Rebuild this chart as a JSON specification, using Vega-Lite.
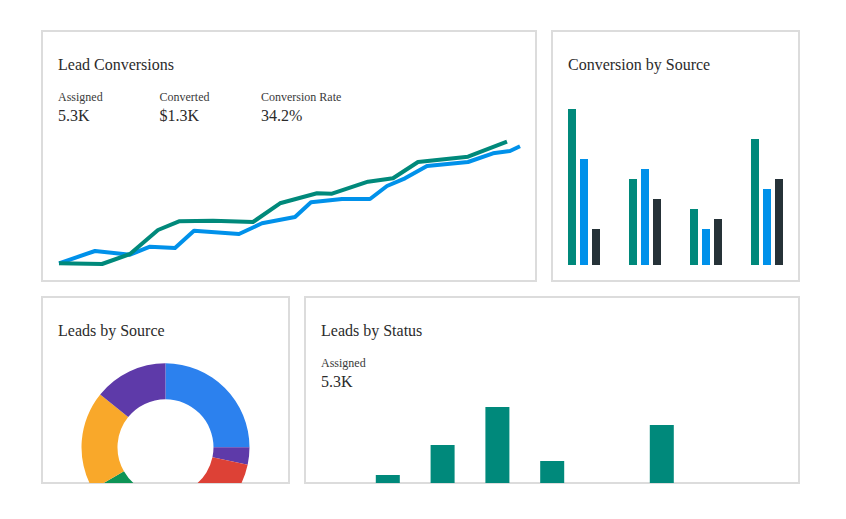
{
  "$schema": "https://vega.github.io/schema/vega-lite/v6.json",
  "background": "white",
  "padding": {"left": 41, "top": 30, "right": 46, "bottom": 35},
  "config": {
    "view": {"stroke": null},
    "font": "Liberation Serif",
    "title": {"anchor": "start", "frame": "group", "offset": -42, "dx": 16, "baseline": "alphabetic", "font": "Liberation Serif", "fontSize": 16, "fontWeight": "normal", "color": "#2b2b2b"},
    "text": {"font": "Liberation Serif", "color": "#333", "align": "left", "baseline": "alphabetic"}
  },
  "spacing": 14,
  "resolve": {"scale": {"color": "independent", "x": "independent", "y": "independent"}},
  "vconcat": [
    {
      "spacing": 14,
      "resolve": {"scale": {"color": "independent", "x": "independent", "y": "independent"}},
      "hconcat": [
        {
          "title": "Lead Conversions",
          "width": 494,
          "height": 250,
          "view": {"fill": "white", "stroke": "#dcdcdc", "strokeWidth": 2},
          "resolve": {"scale": {"x": "independent", "y": "independent", "color": "independent"}},
          "layer": [
            {
              "data": {"values": [
                {"metric": "Assigned", "row": "label", "text": "Assigned"},
                {"metric": "Assigned", "row": "value", "text": "5.3K"},
                {"metric": "Converted", "row": "label", "text": "Converted"},
                {"metric": "Converted", "row": "value", "text": "$1.3K"},
                {"metric": "Conversion Rate", "row": "label", "text": "Conversion Rate"},
                {"metric": "Conversion Rate", "row": "value", "text": "34.2%"}
              ]},
              "encoding": {
                "x": {"field": "metric", "type": "nominal", "sort": null, "scale": {"type": "point", "range": [16, 219], "padding": 0}, "axis": null},
                "y": {"field": "row", "type": "nominal", "scale": {"type": "point", "domain": ["label", "value"], "range": [70, 90], "padding": 0}, "axis": null},
                "text": {"field": "text"}
              },
              "layer": [
                {"transform": [{"filter": "datum.row === 'label'"}], "mark": {"type": "text", "fontSize": 12, "color": "#3a3a3a"}},
                {"transform": [{"filter": "datum.row === 'value'"}], "mark": {"type": "text", "fontSize": 16, "color": "#2b2b2b"}}
              ]
            },
            {
              "data": {"values": [
                {"series": "Assigned", "t": 0, "v": 0.7},
                {"series": "Assigned", "t": 36, "v": 13},
                {"series": "Assigned", "t": 71, "v": 9.3},
                {"series": "Assigned", "t": 91, "v": 17.3},
                {"series": "Assigned", "t": 116, "v": 16},
                {"series": "Assigned", "t": 135, "v": 33.3},
                {"series": "Assigned", "t": 180, "v": 30},
                {"series": "Assigned", "t": 203, "v": 40.7},
                {"series": "Assigned", "t": 236, "v": 47},
                {"series": "Assigned", "t": 252, "v": 61.7},
                {"series": "Assigned", "t": 283, "v": 65},
                {"series": "Assigned", "t": 311, "v": 65},
                {"series": "Assigned", "t": 328, "v": 78},
                {"series": "Assigned", "t": 346, "v": 85.7},
                {"series": "Assigned", "t": 368, "v": 98},
                {"series": "Assigned", "t": 409, "v": 102},
                {"series": "Assigned", "t": 434, "v": 110.7},
                {"series": "Assigned", "t": 451, "v": 113},
                {"series": "Assigned", "t": 461, "v": 117.7},
                {"series": "Converted", "t": 0, "v": 0.7},
                {"series": "Converted", "t": 43, "v": 0},
                {"series": "Converted", "t": 71, "v": 10},
                {"series": "Converted", "t": 99, "v": 34},
                {"series": "Converted", "t": 120, "v": 42.7},
                {"series": "Converted", "t": 154, "v": 43.3},
                {"series": "Converted", "t": 194, "v": 42},
                {"series": "Converted", "t": 221, "v": 60.7},
                {"series": "Converted", "t": 258, "v": 70.7},
                {"series": "Converted", "t": 273, "v": 70.3},
                {"series": "Converted", "t": 309, "v": 82.3},
                {"series": "Converted", "t": 334, "v": 85.7},
                {"series": "Converted", "t": 359, "v": 102},
                {"series": "Converted", "t": 409, "v": 107.3},
                {"series": "Converted", "t": 448, "v": 122.3}
              ]},
              "mark": {"type": "line", "strokeWidth": 4, "strokeJoin": "round"},
              "encoding": {
                "x": {"field": "t", "type": "quantitative", "scale": {"domain": [0, 461], "range": [17, 478], "nice": false, "zero": false}, "axis": null},
                "y": {"field": "v", "type": "quantitative", "scale": {"domain": [0, 125], "range": [233, 108], "nice": false}, "axis": null},
                "color": {"field": "series", "type": "nominal", "scale": {"domain": ["Assigned", "Converted"], "range": ["#0091EA", "#00897B"]}, "legend": null}
              }
            }
          ]
        },
        {
          "title": "Conversion by Source",
          "width": 247,
          "height": 250,
          "view": {"fill": "white", "stroke": "#dcdcdc", "strokeWidth": 2},
          "data": {"values": [
            {"source": "Website", "series": "Leads", "v": 156},
            {"source": "Website", "series": "Qualified", "v": 106},
            {"source": "Website", "series": "Converted", "v": 36},
            {"source": "Referral", "series": "Leads", "v": 86},
            {"source": "Referral", "series": "Qualified", "v": 96},
            {"source": "Referral", "series": "Converted", "v": 66},
            {"source": "Social", "series": "Leads", "v": 56},
            {"source": "Social", "series": "Qualified", "v": 36},
            {"source": "Social", "series": "Converted", "v": 46},
            {"source": "Email", "series": "Leads", "v": 126},
            {"source": "Email", "series": "Qualified", "v": 76},
            {"source": "Email", "series": "Converted", "v": 86}
          ]},
          "mark": {"type": "bar"},
          "encoding": {
            "x": {"field": "source", "type": "nominal", "sort": null, "scale": {"range": [16, 231], "paddingInner": 0.4754, "paddingOuter": 0}, "axis": null},
            "xOffset": {"field": "series", "type": "nominal", "sort": ["Leads", "Qualified", "Converted"], "scale": {"paddingInner": 0.3333, "paddingOuter": 0}},
            "y": {"field": "v", "type": "quantitative", "scale": {"domain": [0, 156], "range": [234, 78], "nice": false}, "axis": null},
            "color": {"field": "series", "type": "nominal", "scale": {"domain": ["Leads", "Qualified", "Converted"], "range": ["#00897B", "#0091EA", "#263238"]}, "legend": null}
          }
        }
      ]
    },
    {
      "spacing": 14,
      "resolve": {"scale": {"color": "independent", "x": "independent", "y": "independent"}},
      "hconcat": [
        {
          "title": "Leads by Source",
          "width": 247,
          "height": 186,
          "view": {"fill": "white", "stroke": "#dcdcdc", "strokeWidth": 2},
          "data": {"values": [
            {"source": "Website", "n": 1, "v": 90},
            {"source": "Partners", "n": 2, "v": 12},
            {"source": "Social", "n": 3, "v": 78},
            {"source": "Email", "n": 4, "v": 60},
            {"source": "Events", "n": 5, "v": 69},
            {"source": "Referral", "n": 6, "v": 51}
          ]},
          "mark": {"type": "arc", "innerRadius": 48, "outerRadius": 84, "clip": true},
          "encoding": {
            "theta": {"field": "v", "type": "quantitative", "stack": true},
            "order": {"field": "n", "type": "quantitative"},
            "y": {"datum": 0, "type": "quantitative", "scale": {"domain": [0, 1], "range": [150.3, 0], "nice": false}, "axis": null},
            "color": {"field": "source", "type": "nominal", "scale": {"domain": ["Website", "Partners", "Social", "Email", "Events", "Referral"], "range": ["#2C81EE", "#5E3AA9", "#DD4136", "#0E9456", "#F9A82A", "#5E3AA9"]}, "legend": null}
          }
        },
        {
          "title": "Leads by Status",
          "width": 494,
          "height": 186,
          "view": {"fill": "white", "stroke": "#dcdcdc", "strokeWidth": 2},
          "resolve": {"scale": {"x": "independent", "y": "independent"}},
          "layer": [
            {
              "data": {"values": [
                {"metric": "Assigned", "row": "label", "text": "Assigned"},
                {"metric": "Assigned", "row": "value", "text": "5.3K"}
              ]},
              "encoding": {
                "x": {"field": "metric", "type": "nominal", "scale": {"type": "point", "range": [16, 16], "padding": 0}, "axis": null},
                "y": {"field": "row", "type": "nominal", "scale": {"type": "point", "domain": ["label", "value"], "range": [70, 90], "padding": 0}, "axis": null},
                "text": {"field": "text"}
              },
              "layer": [
                {"transform": [{"filter": "datum.row === 'label'"}], "mark": {"type": "text", "fontSize": 12, "color": "#3a3a3a"}},
                {"transform": [{"filter": "datum.row === 'value'"}], "mark": {"type": "text", "fontSize": 16, "color": "#2b2b2b"}}
              ]
            },
            {
              "data": {"values": [
                {"status": "New", "v": 8},
                {"status": "Assigned", "v": 25},
                {"status": "Contacted", "v": 55},
                {"status": "Qualified", "v": 93},
                {"status": "Nurturing", "v": 39},
                {"status": "Proposal", "v": 10},
                {"status": "Negotiation", "v": 75},
                {"status": "Won", "v": 6},
                {"status": "Lost", "v": 12}
              ]},
              "mark": {"type": "bar", "color": "#00897B", "clip": true},
              "encoding": {
                "x": {"field": "status", "type": "nominal", "sort": null, "scale": {"range": [16, 478.4], "paddingInner": 0.562, "paddingOuter": 0}, "axis": null},
                "y": {"field": "v", "type": "quantitative", "scale": {"domain": [0, 100], "range": [203, 103], "nice": false}, "axis": null}
              }
            }
          ]
        }
      ]
    }
  ]
}
